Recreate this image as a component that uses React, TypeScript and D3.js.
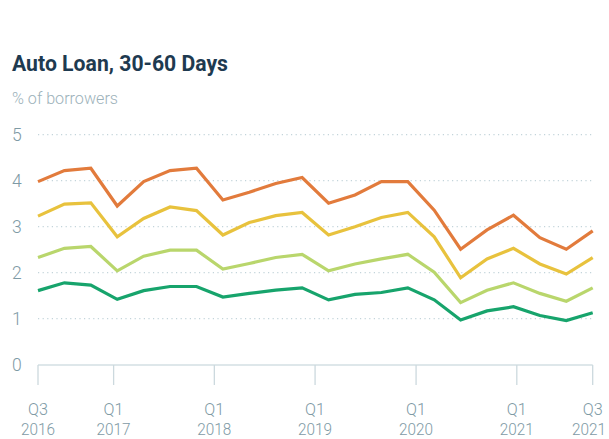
import React from "react";
import * as d3 from "d3";

const W = 609;
const H = 439;

const orange = [3.98, 4.22, 4.27, 3.45, 3.98, 4.22, 4.27, 3.58, 3.75, 3.94, 4.07, 3.51, 3.69, 3.98, 3.98, 3.36, 2.51, 2.93, 3.25, 2.76, 2.51, 2.91];
const yellow = [3.23, 3.49, 3.52, 2.78, 3.18, 3.43, 3.35, 2.82, 3.09, 3.24, 3.31, 2.82, 3.0, 3.2, 3.31, 2.78, 1.89, 2.3, 2.53, 2.19, 1.97, 2.33];
const lightGreen = [2.33, 2.53, 2.57, 2.04, 2.36, 2.49, 2.49, 2.08, 2.2, 2.33, 2.4, 2.04, 2.19, 2.3, 2.4, 2.01, 1.35, 1.62, 1.78, 1.55, 1.38, 1.67];
const green = [1.61, 1.78, 1.73, 1.42, 1.61, 1.7, 1.7, 1.47, 1.55, 1.62, 1.67, 1.41, 1.53, 1.57, 1.67, 1.41, 0.97, 1.17, 1.26, 1.07, 0.96, 1.13];

const seriesList = [
  { name: "orange", values: orange, color: "#E27B3C" },
  { name: "yellow", values: yellow, color: "#E8C23D" },
  { name: "lightGreen", values: lightGreen, color: "#B9D66C" },
  { name: "green", values: green, color: "#17A46C" },
];

const periods = orange.map((_, i) => String(i));

const yTicks = [0, 1, 2, 3, 4, 5];

const tickLabels = [
  ["Q3", "2016"],
  ["Q1", "2017"],
  ["Q1", "2018"],
  ["Q1", "2019"],
  ["Q1", "2020"],
  ["Q1", "2021"],
  ["Q3", "2021"],
];
const tickDates = [
  new Date(2016, 6, 1),
  new Date(2017, 3, 1),
  new Date(2018, 3, 1),
  new Date(2019, 3, 1),
  new Date(2020, 3, 1),
  new Date(2021, 3, 1),
  new Date(2022, 0, 1),
];

export default function App() {
  const x0 = 38;
  const x1 = 592.7;
  const x = d3.scalePoint<string>().domain(periods).range([x0, x1]);
  const xt = d3.scaleTime().domain([tickDates[0], tickDates[tickDates.length - 1]]).range([x0, x1]);
  const y = d3.scaleLinear().domain([0, 5]).range([364.7, 134.7]);

  const line = d3
    .line<number>()
    .x((_, i) => x(periods[i]) as number)
    .y((d) => y(d))
    .curve(d3.curveLinear);

  const font = "Roboto, 'Noto Sans', sans-serif";

  return (
    <svg
      width={W}
      height={H}
      style={{ position: "absolute", left: 0, top: 0, display: "block", background: "#fff" }}
    >
      <text
        x={12}
        y={71}
        fontFamily={font}
        fontWeight={700}
        fontSize={22.5}
        fill="#1E3A50"
        textLength={216}
        lengthAdjust="spacingAndGlyphs"
      >
        Auto Loan, 30-60 Days
      </text>
      <text
        x={12}
        y={104}
        fontFamily={font}
        fontWeight={300}
        fontSize={17}
        fill="#9DB2BA"
        textLength={106}
        lengthAdjust="spacingAndGlyphs"
      >
        % of borrowers
      </text>

      {yTicks.map((t) => (
        <g key={t}>
          {t > 0 && (
            <line
              x1={x0}
              x2={x1}
              y1={y(t)}
              y2={y(t)}
              stroke="#C3D4DA"
              strokeWidth={1.2}
              strokeDasharray="1.2,3.4"
            />
          )}
          <text
            x={12}
            y={y(t) + 6}
            fontFamily={font}
            fontWeight={300}
            fontSize={17.5}
            fill="#7E9AA5"
          >
            {t}
          </text>
        </g>
      ))}

      <line x1={x0} x2={x1} y1={365} y2={365} stroke="#D3DFE3" strokeWidth={1.6} />

      {tickDates.map((d, i) => {
        const px = xt(d);
        const isLast = i === tickDates.length - 1;
        const yearW = 34;
        const qW = 20;
        const yearX = isLast ? Math.min(px, W - 3 - yearW / 2) : px;
        return (
          <g key={i}>
            <line x1={px} x2={px} y1={365} y2={385} stroke="#CCD9DE" strokeWidth={1.3} />
            <text
              x={px - qW / 2}
              y={414.5}
              fontFamily={font}
              fontWeight={300}
              fontSize={17}
              fill="#7E9AA5"
              textLength={qW}
              lengthAdjust="spacingAndGlyphs"
            >
              {tickLabels[i][0]}
            </text>
            <text
              x={yearX - yearW / 2}
              y={434.5}
              fontFamily={font}
              fontWeight={300}
              fontSize={17}
              fill="#7E9AA5"
              textLength={yearW}
              lengthAdjust="spacingAndGlyphs"
            >
              {tickLabels[i][1]}
            </text>
          </g>
        );
      })}

      {seriesList.map((s) => (
        <path
          key={s.name}
          d={line(s.values) || ""}
          fill="none"
          stroke={s.color}
          strokeWidth={3.2}
          strokeLinejoin="miter"
          strokeLinecap="butt"
        />
      ))}
    </svg>
  );
}
